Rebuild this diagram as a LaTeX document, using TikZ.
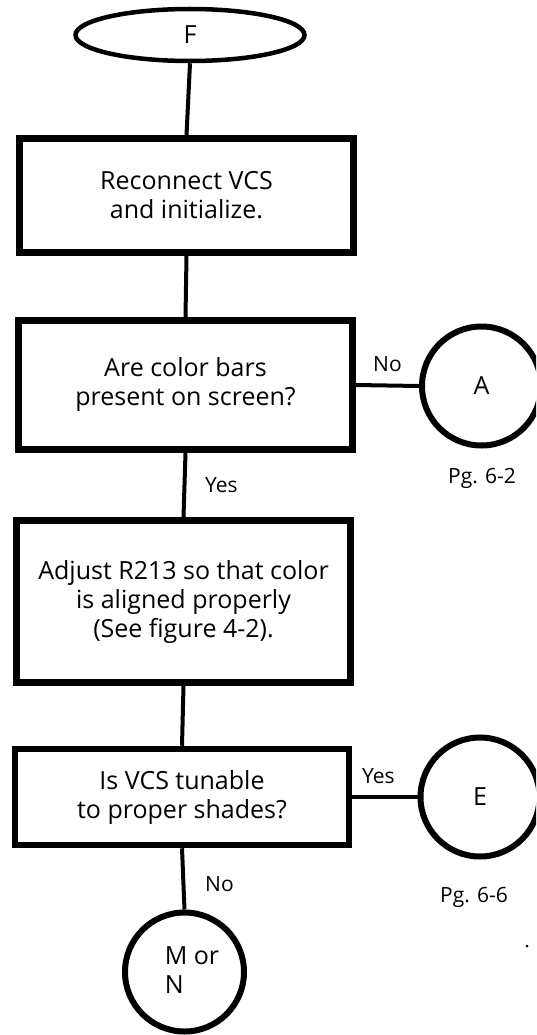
\documentclass[tikz,border=0pt]{standalone}
\usepackage{fontspec}
\setmainfont{Open Sans}
\usetikzlibrary{shapes.geometric}
\begin{document}
\begin{tikzpicture}[x=1pt,y=-1pt,
  boxnode/.style={draw, line width=6.5pt, minimum width=334pt, inner sep=0pt, align=center, font=\fontsize{25}{29}\selectfont},
  connode/.style={draw, circle, line width=6pt, minimum size=119pt, inner sep=0pt, align=left, font=\fontsize{25}{29}\selectfont},
  termnode/.style={draw, ellipse, line width=4.5pt, minimum width=229pt, minimum height=52pt, inner sep=0pt, font=\fontsize{25}{29}\selectfont},
  link/.style={line width=4pt},
  lbl/.style={font=\fontsize{21}{25}\selectfont, inner sep=0pt, anchor=base west}]
\useasboundingbox (0,0) rectangle (536,1035);
\clip (0,0) rectangle (536,1035);
\fill[white] (0,0) rectangle (536,1035);

\node[termnode] (f) at (190,35) {F};
\node[boxnode, minimum height=114pt] (b1) at (186.5,195.5) {Reconnect VCS\\and initialize.};
\node[boxnode, minimum height=129pt] (b2) at (185.5,385) {Are color bars\\present on screen?};
\node[boxnode, minimum height=162pt] (b3) at (183.5,601.5) {Adjust R213 so that color\\is aligned properly\\(See figure 4-2).};
\node[boxnode, minimum height=96pt] (b4) at (182,797) {Is VCS tunable\\to proper shades?};
\node[connode] (a) at (481.5,386) {A};
\node[connode] (e) at (480,797) {E};
\node[connode] (mn) at (184.5,972) {};
\node[font=\fontsize{25}{29}\selectfont, align=left, inner sep=0pt] (mntext) at (192,970) {M or\\N};

\draw[link] (f.south) -- (b1.north);
\draw[link] (b1.south) -- (b2.north);
\draw[link] (b2.east) -- (a.west);
\draw[link] (b2.south) -- (b3.north);
\draw[link] (b3.south) -- (b4.north);
\draw[link] (b4.east) -- (e.west);
\draw[link] (b4.south) -- (mn.north);

\node[lbl] (noA) at (373,371) {No};
\node[lbl] (pg62) at (448,483) {Pg. 6-2};
\node[lbl] (yes1) at (205,492) {Yes};
\node[lbl] (yesE) at (362,783) {Yes};
\node[lbl] (no2) at (205,891) {No};
\node[lbl] (pg66) at (440,902) {Pg. 6-6};
\fill (527,946) circle (1.5pt);
\end{tikzpicture}
\end{document}
